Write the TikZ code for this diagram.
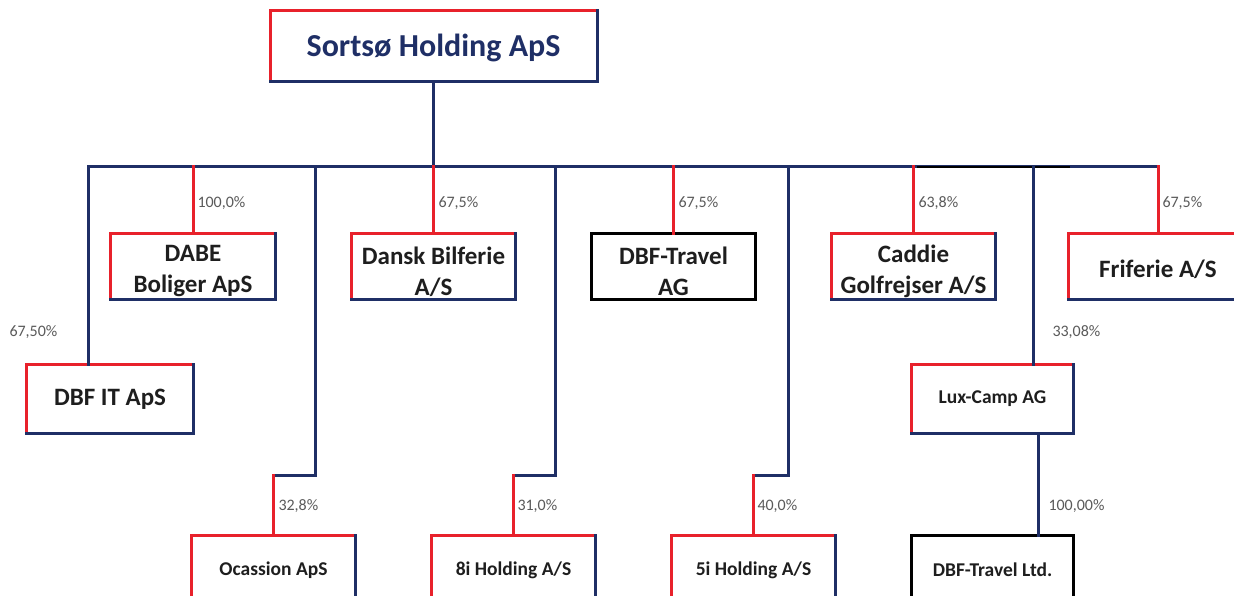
\documentclass[tikz,border=0pt]{standalone}
\usepackage{fontspec}
\setmainfont{Carlito}
\definecolor{navy}{HTML}{1F2F66}
\definecolor{ored}{HTML}{E8212B}
\definecolor{pgray}{HTML}{5A5A5A}
\definecolor{txt}{HTML}{1E1E1E}
\newcommand{\lowr}[1]{\raisebox{-5pt}[\height][\depth]{#1}}
\begin{document}
\begin{tikzpicture}[x=1pt,y=-1pt,line width=3pt,line cap=rect,
  box/.style={inner sep=0pt,align=center,text=txt,font=\bfseries\fontsize{25}{31}\selectfont},
  midbox/.style={box,minimum height=63pt},
  lowbox/.style={box,minimum height=66pt,font=\bfseries\fontsize{19.5}{24}\selectfont},
  pct/.style={anchor=west,inner sep=0pt,text=pgray,font=\fontsize{16}{18}\selectfont}]
\useasboundingbox (0,0) rectangle (1234,596);
\clip (0,0) rectangle (1234,596);
\fill[white] (0,0) rectangle (1234,596);
% boxes
\node[box,minimum width=324pt,minimum height=68pt,text=navy,font=\bfseries\fontsize{32}{36}\selectfont] (top) at (433.5,46) {\raisebox{-2pt}[\height][\depth]{Sortsø Holding ApS}};
\node[midbox,minimum width=162pt] (dabe) at (193,266.5) {\lowr{DABE}\\\lowr{Boliger ApS}};
\node[midbox,minimum width=161pt] (dansk) at (433.5,266.5) {\lowr{Dansk Bilferie}\\\lowr{A/S}};
\node[midbox,minimum width=161pt] (dbfag) at (673.5,266.5) {\lowr{DBF-Travel}\\\lowr{AG}};
\node[midbox,minimum width=161pt] (caddie) at (913.5,266.5) {\lowr{Caddie}\\\lowr{Golfrejser A/S}};
\node[midbox,minimum width=176pt] (friferie) at (1158,266.5) {\raisebox{-3pt}[\height][\depth]{Friferie A/S}};
\node[box,minimum width=164pt,minimum height=66pt] (dbfit) at (110,399) {DBF IT ApS};
\node[lowbox,minimum width=159pt] (lux) at (992.5,399) {Lux-Camp AG};
\node[lowbox,minimum width=161pt] (ocassion) at (273.5,570) {Ocassion ApS};
\node[lowbox,minimum width=161pt] (h8i) at (513.5,570) {8i Holding A/S};
\node[lowbox,minimum width=161pt] (h5i) at (753.5,570) {5i Holding A/S};
\node[lowbox,minimum width=159pt] (ltd) at (992.5,570) {DBF-Travel Ltd.};
% borders
\foreach \n in {top,dabe,dansk,caddie,friferie,dbfit,lux,ocassion,h8i,h5i}{
  \draw[ored] (\n.south west) -- (\n.north west) -- (\n.north east);
  \draw[navy] (\n.north east) -- (\n.south east) -- (\n.south west);
}
\foreach \n in {dbfag,ltd}{
  \draw[black,line width=2.5pt] (\n.north west) rectangle (\n.south east);
}
% bar coordinates
\coordinate (bl) at (88,167);
\coordinate (br) at (1158,167);
\coordinate (c3) at (315,167);
\coordinate (c5) at (555,167);
\coordinate (c7) at (788,167);
\coordinate (c9) at (1033,167);
\coordinate (e3) at (315,475);
\coordinate (e5) at (555,475);
\coordinate (e7) at (788,475);
\coordinate (k1) at (917,167);
\coordinate (k2) at (1070,167);
\coordinate (lx) at (1038,0);
% connectors
\draw[navy] (top.south) -- (top.south |- bl);
\draw[navy] (bl) -- (br);
\draw[black,line width=2pt,line cap=butt] (k1) -- (k2);
\draw[navy] (bl) -- (bl |- dbfit.north);
\draw[ored] (dabe.north |- bl) -- (dabe.north);
\draw[ored] (dansk.north |- bl) -- (dansk.north);
\draw[ored] (dbfag.north |- bl) -- (dbfag.north);
\draw[ored] (caddie.north |- bl) -- (caddie.north);
\draw[ored] (br) -- (friferie.north);
\draw[navy] (c3) -- (e3) -- (e3 -| ocassion.north);
\draw[ored] (e3 -| ocassion.north) -- (ocassion.north);
\draw[navy] (c5) -- (e5) -- (e5 -| h8i.north);
\draw[ored] (e5 -| h8i.north) -- (h8i.north);
\draw[navy] (c7) -- (e7) -- (e7 -| h5i.north);
\draw[ored] (e7 -| h5i.north) -- (h5i.north);
\draw[navy] (c9) -- (c9 |- lux.north);
\draw[navy] (lux.south -| lx) -- (ltd.north -| lx);
% percentages
\node[pct] (p1) at (196,203) {100,0\%};
\node[pct] (p2) at (8,332) {67,50\%};
\node[pct] (p3) at (437,203) {67,5\%};
\node[pct] (p4) at (677,203) {67,5\%};
\node[pct] (p5) at (917,203) {63,8\%};
\node[pct] (p6) at (1161,203) {67,5\%};
\node[pct] (p7) at (1051,332) {33,08\%};
\node[pct] (p8) at (277,506) {32,8\%};
\node[pct] (p9) at (516,506) {31,0\%};
\node[pct] (p10) at (756,506) {40,0\%};
\node[pct] (p11) at (1047,506) {100,00\%};
\end{tikzpicture}
\end{document}
